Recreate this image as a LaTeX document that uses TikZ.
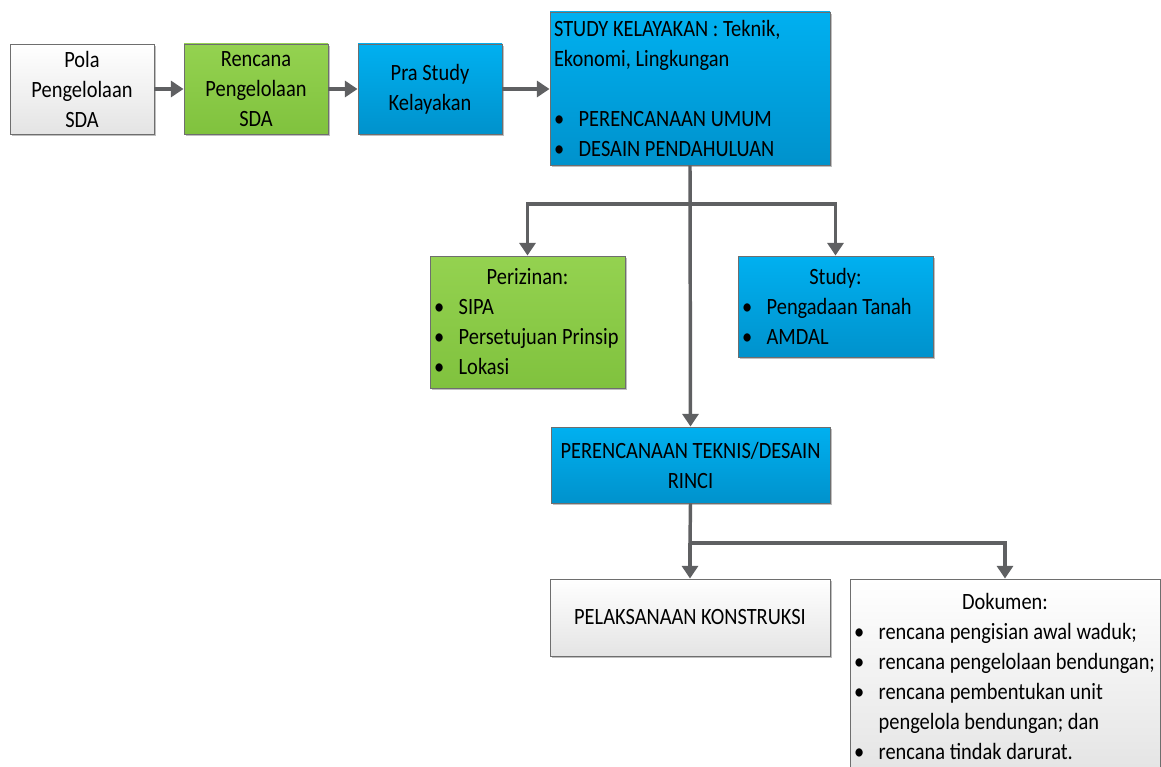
\documentclass[tikz,border=0pt]{standalone}
\usepackage{fontspec}
\setmainfont{Carlito}[FakeStretch=0.875]
\usetikzlibrary{arrows.meta,shadows}
\definecolor{bluetop}{HTML}{00B0F0}
\definecolor{bluebot}{HTML}{0092CC}
\definecolor{greentop}{HTML}{94D250}
\definecolor{greenbot}{HTML}{80C23E}
\definecolor{graybot}{HTML}{E4E4E4}
\definecolor{edge}{HTML}{6E6E6E}
\definecolor{arrowgray}{HTML}{5F6062}
\newcommand\bl{\makebox[18.5pt][l]{\textbullet}}
\begin{document}
\begin{tikzpicture}[x=0.75pt,y=-0.75pt,
  font=\fontsize{17.5}{22.5}\selectfont,
  box/.style={draw=edge,line width=0.7pt,inner xsep=3pt,inner ysep=0pt,
    drop shadow={shadow xshift=1.5pt,shadow yshift=-1.5pt,opacity=0.25,fill=black}},
  bluebox/.style={box,top color=bluetop,bottom color=bluebot},
  greenbox/.style={box,top color=greentop,bottom color=greenbot},
  graybox/.style={box,top color=white,bottom color=graybot},
  arr/.style={draw=arrowgray,line width=2.6pt,-{Triangle[width=12pt,length=9.5pt]}},
  ln/.style={draw=arrowgray,line width=2.6pt}]
\useasboundingbox (0,0) rectangle (1161,767);

\node[graybox,minimum width=108pt,minimum height=67.5pt,align=center] (pola) at (82,89) {Pola\\Pengelolaan\\SDA};
\node[greenbox,minimum width=108pt,minimum height=67.5pt,align=center] (ren) at (256,89) {Rencana\\Pengelolaan\\SDA};
\node[bluebox,minimum width=108pt,minimum height=67.5pt,align=center] (pra) at (430,89) {Pra Study\\Kelayakan};
\node[bluebox,minimum width=210pt,minimum height=114.75pt,align=left] (sk) at (690,88.5)
  {\makebox[204pt][l]{STUDY KELAYAKAN : Teknik,}\\Ekonomi, Lingkungan\\[22.5pt]\bl PERENCANAAN UMUM\\\bl DESAIN PENDAHULUAN};
\node[greenbox,minimum width=146.25pt,minimum height=99pt,align=left] (periz) at (527.5,322)
  {\makebox[140.25pt]{Perizinan:}\\\bl SIPA\\\bl Persetujuan Prinsip\\\bl Lokasi};
\node[bluebox,minimum width=146.25pt,minimum height=75.75pt,align=left] (study) at (835.5,306.5)
  {\makebox[140.25pt]{Study:}\\\bl Pengadaan Tanah\\\bl AMDAL};
\node[bluebox,minimum width=209.25pt,minimum height=57pt,align=center] (pt) at (690.5,465)
  {PERENCANAAN TEKNIS/DESAIN\\RINCI};
\node[graybox,minimum width=210pt,minimum height=57.75pt,align=center] (pk) at (690,617.5)
  {PELAKSANAAN KONSTRUKSI};
\node[graybox,minimum width=232.5pt,minimum height=146.25pt,align=left] (dok) at (1005,676.5)
  {\makebox[226.5pt]{Dokumen:}\\\bl rencana pengisian awal waduk;\\\bl rencana pengelolaan bendungan;\\\bl rencana pembentukan unit\\\hspace*{18.5pt}pengelola bendungan; dan\\\bl rencana tindak darurat.};

\coordinate (j1) at (690,204);
\coordinate (j2) at (690,543);

\draw[arr] (pola.east) -- (ren.west);
\draw[arr] (ren.east) -- (pra.west);
\draw[arr] (pra.east) -- (pra.east -| sk.west);
\draw[arr] (sk.south) -- (pt.north);
\draw[arr] (j1) -| (periz.north);
\draw[arr] (j1) -| (study.north);
\draw[ln] (pt.south) -- (j2);
\draw[arr] (j2) -- (pk.north);
\draw[arr] (j2) -| (dok.north);
\end{tikzpicture}
\end{document}
